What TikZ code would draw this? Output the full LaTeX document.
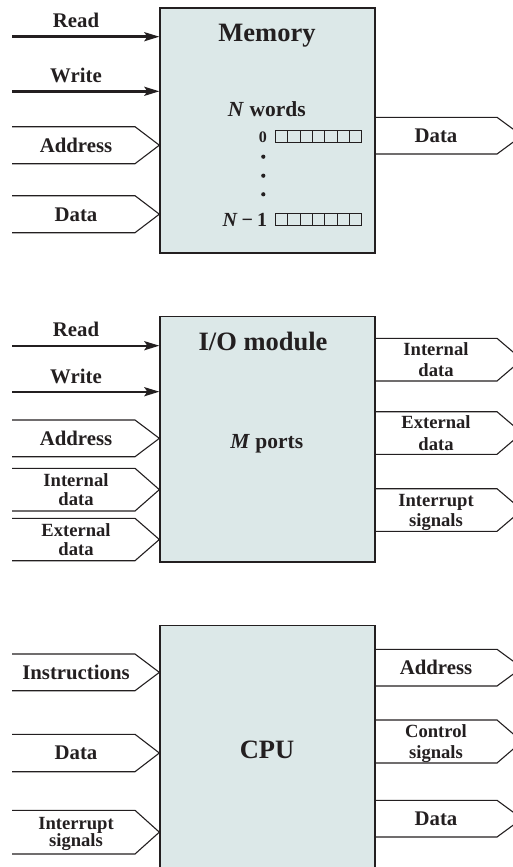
\documentclass[tikz,border=0pt]{standalone}
\usepackage{fontspec}
\setmainfont{Liberation Serif}
\usetikzlibrary{arrows.meta,calc}
\definecolor{boxfill}{RGB}{220,232,232}
\definecolor{ink}{RGB}{35,31,32}
\tikzset{
  unitbox/.style={draw=ink, line width=1.3pt, fill=boxfill, minimum width=215pt, inner sep=0pt},
  sig/.style={draw=ink, line width=1.1pt, line join=miter},
  ctl/.style={draw=ink, line width=2.4pt, -{Stealth[length=15pt,width=9pt,inset=3pt]}},
  lbl/.style={font=\fontsize{20.8}{23}\selectfont\bfseries, text=ink, inner sep=0pt, text depth=0pt, align=center},
  lbltwo/.style={font=\fontsize{18.6}{#1}\selectfont\bfseries, text=ink, inner sep=0pt, text depth=0pt, align=center},
  title/.style={font=\fontsize{26.5}{30}\selectfont\bfseries, text=ink, inner sep=0pt, anchor=base},
  inner/.style={font=\fontsize{21.5}{24}\selectfont\bfseries, text=ink, inner sep=0pt, anchor=base},
  idx/.style={text=ink, inner sep=0pt, anchor=base east},
  reg/.style={draw=ink, line width=0.9pt, minimum width=86pt, minimum height=12pt, inner sep=0pt},
}
% left input signal: box, name, top, bottom, style, text
\newcommand\insig[6]{%
  \pgfmathsetmacro\ymid{(#3+#4)/2}%
  \node[#5] (#2) at (76,\ymid) {#6};%
  \draw[sig] (12,#3) -- (135,#3) -- (#1.west |- #2.center) -- (135,#4) -- (12,#4);%
}
% right output signal: box, name, top, bottom, style, text
\newcommand\outsig[6]{%
  \pgfmathsetmacro\ymid{(#3+#4)/2}%
  \node[#5] (#2) at (436,\ymid) {#6};%
  \draw[sig] (#1.east |- 0,#3) -- (497,#3) -- (522,\ymid) -- (497,#4) -- (#1.east |- 0,#4);%
}
\begin{document}
\begin{tikzpicture}[x=1pt,y=-1pt]
\useasboundingbox (0,0) rectangle (513,867);
\clip (0,0) rectangle (513,867);

% ---------------- Memory ----------------
\node[unitbox, minimum height=245pt] (mem) at (267.5,130.5) {};
\node[title] (memt) at (267,41.7) {Memory};
\node[lbl, anchor=base] (mrdl) at (76,27.7) {Read};
\coordinate (mrd) at (12,36.7);
\draw[ctl] (mrd) -- (mrd -| mem.west);
\node[lbl, anchor=base] (mwrl) at (76,82.7) {Write};
\coordinate (mwr) at (12,91.3);
\draw[ctl] (mwr) -- (mwr -| mem.west);
\insig{mem}{maddr}{126.7}{163.7}{lbl}{Address}
\insig{mem}{mdin}{195.7}{232.7}{lbl}{Data}
\outsig{mem}{mdout}{117.3}{154}{lbl}{Data}
\node[inner] (mwords) at (266.8,116) {\textit{N} words};
\node[reg] (w0) at (318.7,136.7) {};
\node[reg] (wn) at (318.7,219.6) {};
\foreach \r in {w0,wn}{
  \foreach \i in {1,...,6}{
    \draw[ink, line width=0.9pt] ($(\r.north west)!\i/7!(\r.north east)$) -- ($(\r.south west)!\i/7!(\r.south east)$);
  }
}
\node[idx, font=\fontsize{16}{18}\selectfont\bfseries] (i0) at (267,142.7) {0};
\node[idx, font=\fontsize{20}{22}\selectfont\bfseries] (in) at (267.3,226.5) {\textit{N}\hspace{4pt}−\hspace{4pt}1};
\fill[ink] (263.3,156.7) circle (2.1pt);
\fill[ink] (263.3,175.7) circle (2.1pt);
\fill[ink] (263.3,194.3) circle (2.1pt);

% ---------------- I/O module ----------------
\node[unitbox, minimum height=245.3pt] (io) at (267.5,439.35) {};
\node[title] (iot) at (263,350.7) {I/O module};
\node[lbl, anchor=base] (irdl) at (76,336.7) {Read};
\coordinate (ird) at (12,345.7);
\draw[ctl] (ird) -- (ird -| io.west);
\node[lbl, anchor=base] (iwrl) at (76,383.3) {Write};
\coordinate (iwr) at (12,391.7);
\draw[ctl] (iwr) -- (iwr -| io.west);
\insig{io}{iaddr}{420}{456.7}{lbl}{Address}
\insig{io}{iidin}{468.3}{511}{lbltwo=18.7}{Internal\\data}
\insig{io}{iedin}{518.3}{560.7}{lbltwo=18.7}{External\\data}
\outsig{io}{iidout}{338.3}{381}{lbltwo=20.7}{Internal\\data}
\outsig{io}{iedout}{411.7}{454.3}{lbltwo=21.3}{External\\data}
\outsig{io}{iint}{488.7}{531.3}{lbltwo=20}{Interrupt\\signals}
\node[inner] (iports) at (266.8,448.3) {\textit{M} ports};

% ---------------- CPU ----------------
\node[unitbox, minimum height=254.3pt] (cpu) at (267.5,752.85) {};
\node[title] (cput) at (267,758.3) {CPU};
\insig{cpu}{cins}{654}{690.7}{lbl}{Instructions}
\insig{cpu}{cdin}{734.3}{771.7}{lbl}{Data}
\insig{cpu}{cint}{810.3}{854}{lbltwo=17.3}{Interrupt\\signals}
\outsig{cpu}{caddr}{649.3}{686}{lbl}{Address}
\outsig{cpu}{cctl}{720}{763}{lbltwo=20.7}{Control\\signals}
\outsig{cpu}{cdout}{800.3}{837}{lbl}{Data}
\end{tikzpicture}
\end{document}
